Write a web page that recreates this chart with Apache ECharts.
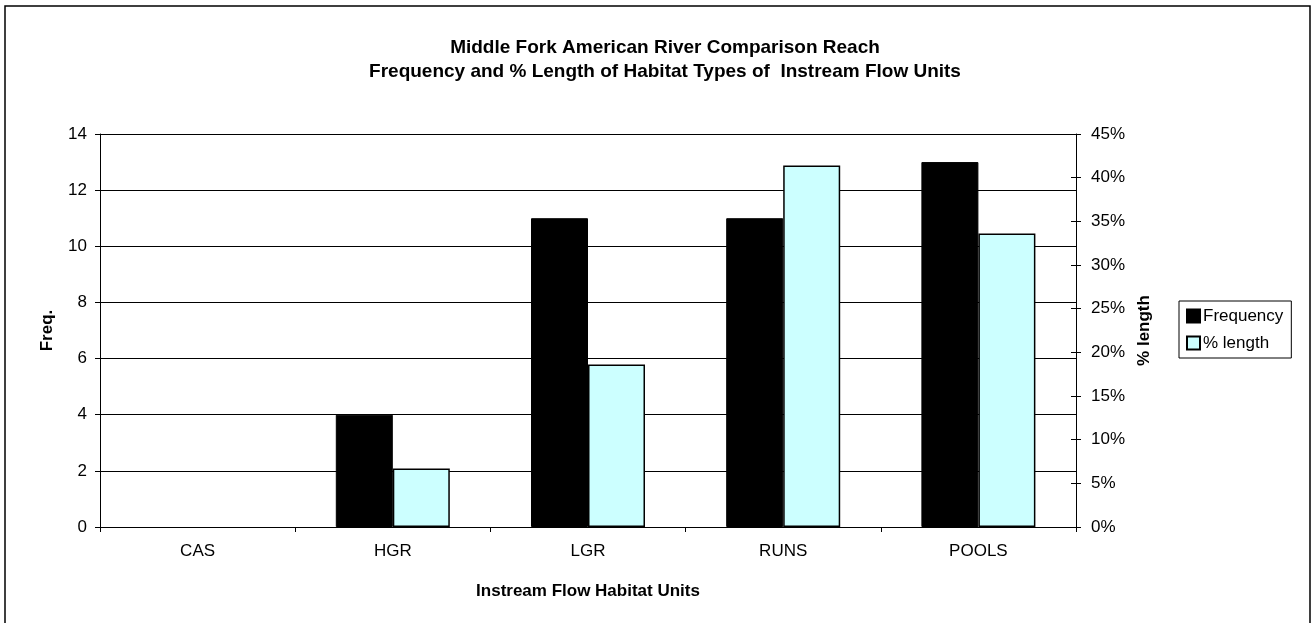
<!DOCTYPE html>
<html>
<head>
<meta charset="utf-8">
<script src="https://cdn.jsdelivr.net/npm/echarts@6/dist/echarts.min.js"></script>
<style>
html,body{margin:0;padding:0;background:#fff;}
#chart{width:1312px;height:623px;}
</style>
</head>
<body>
<div id="chart"></div>
<script>
const categories = ['CAS', 'HGR', 'LGR', 'RUNS', 'POOLS'];
const frequency = [0, 4, 11, 11, 13];
const pctLength = [0, 6.7, 18.6, 41.4, 33.6];
const freqTicks = { min: 0, max: 14, interval: 2 };
const pctTicks = { min: 0, max: 45, interval: 5 };

// zero-height bars are not outlined in the original
const noZeroBorder = arr => arr.map(v => v === 0 ? { value: v, itemStyle: { borderWidth: 0 } } : v);

const chart = echarts.init(document.getElementById('chart'), null, { renderer: 'canvas' });
const font = 'Liberation Sans, Arial, sans-serif';
const tickFont = { fontFamily: font, fontSize: 17, color: '#000' };
const nameFont = { fontFamily: font, fontSize: 17, fontWeight: 'bold', color: '#000' };
chart.setOption({
  animation: false,
  backgroundColor: '#fff',
  title: {
    text: 'Middle Fork American River Comparison Reach\nFrequency and % Length of Habitat Types of  Instream Flow Units',
    left: 660, top: 31, textAlign: 'center',
    textStyle: { fontFamily: font, fontSize: 19, fontWeight: 'bold', color: '#000', lineHeight: 24 }
  },
  graphic: [{
    type: 'rect', shape: { x: 5, y: 6, width: 1305, height: 630 },
    style: { fill: 'none', stroke: '#000', lineWidth: 1.5 }, silent: true
  }],
  legend: {
    orient: 'vertical', left: 1179, top: 301,
    borderColor: '#000', borderWidth: 1, padding: [5, 8, 5, 7],
    itemWidth: 13, itemHeight: 13, itemGap: 7,
    icon: 'rect',
    textStyle: { fontFamily: font, fontSize: 17, color: '#000', lineHeight: 20, padding: [0, 0, 0, -2] },
    data: ['Frequency', '% length']
  },
  grid: { left: 100, right: 236, top: 134, bottom: 96, containLabel: false },
  xAxis: {
    type: 'category', data: categories,
    name: 'Instream Flow Habitat Units', nameLocation: 'middle', nameGap: 56,
    nameTextStyle: nameFont,
    axisLine: { lineStyle: { color: '#000', width: 1 } },
    axisTick: { show: true, length: 5, lineStyle: { color: '#000' } },
    axisLabel: Object.assign({ margin: 16 }, tickFont)
  },
  yAxis: [{
    type: 'value', min: freqTicks.min, max: freqTicks.max, interval: freqTicks.interval,
    name: 'Freq.', nameLocation: 'middle', nameGap: 44, nameRotate: 90,
    nameTextStyle: nameFont,
    axisLine: { show: true, lineStyle: { color: '#000', width: 1 } },
    axisTick: { show: true, length: 5, lineStyle: { color: '#000' } },
    axisLabel: Object.assign({ margin: 13 }, tickFont),
    splitLine: { show: true, lineStyle: { color: '#000', width: 1 } }
  }, {
    type: 'value', min: pctTicks.min, max: pctTicks.max, interval: pctTicks.interval,
    position: 'right',
    name: '% length', nameLocation: 'middle', nameGap: 58, nameRotate: 90,
    nameTextStyle: nameFont,
    axisLine: { show: true, lineStyle: { color: '#000', width: 1 } },
    axisTick: { show: true, length: 5, lineStyle: { color: '#000' } },
    axisLabel: Object.assign({ margin: 15, formatter: '{value}%' }, tickFont),
    splitLine: { show: false }
  }, {
    // inner half of the crossing ticks on the right axis
    type: 'value', min: pctTicks.min, max: pctTicks.max, interval: pctTicks.interval,
    position: 'right',
    axisLine: { show: false },
    axisTick: { show: true, inside: true, length: 5, lineStyle: { color: '#000' } },
    axisLabel: { show: false },
    splitLine: { show: false }
  }],
  series: [{
    name: 'Frequency', type: 'bar', yAxisIndex: 0, data: noZeroBorder(frequency),
    barWidth: 57, barGap: '0%',
    itemStyle: { color: '#000', borderColor: '#000', borderWidth: 1 }
  }, {
    name: '% length', type: 'bar', yAxisIndex: 1, data: noZeroBorder(pctLength),
    barWidth: 57, barGap: '0%',
    itemStyle: { color: '#CCFFFF', borderColor: '#000', borderWidth: 1.5 }
  }]
});
</script>
</body>
</html>
